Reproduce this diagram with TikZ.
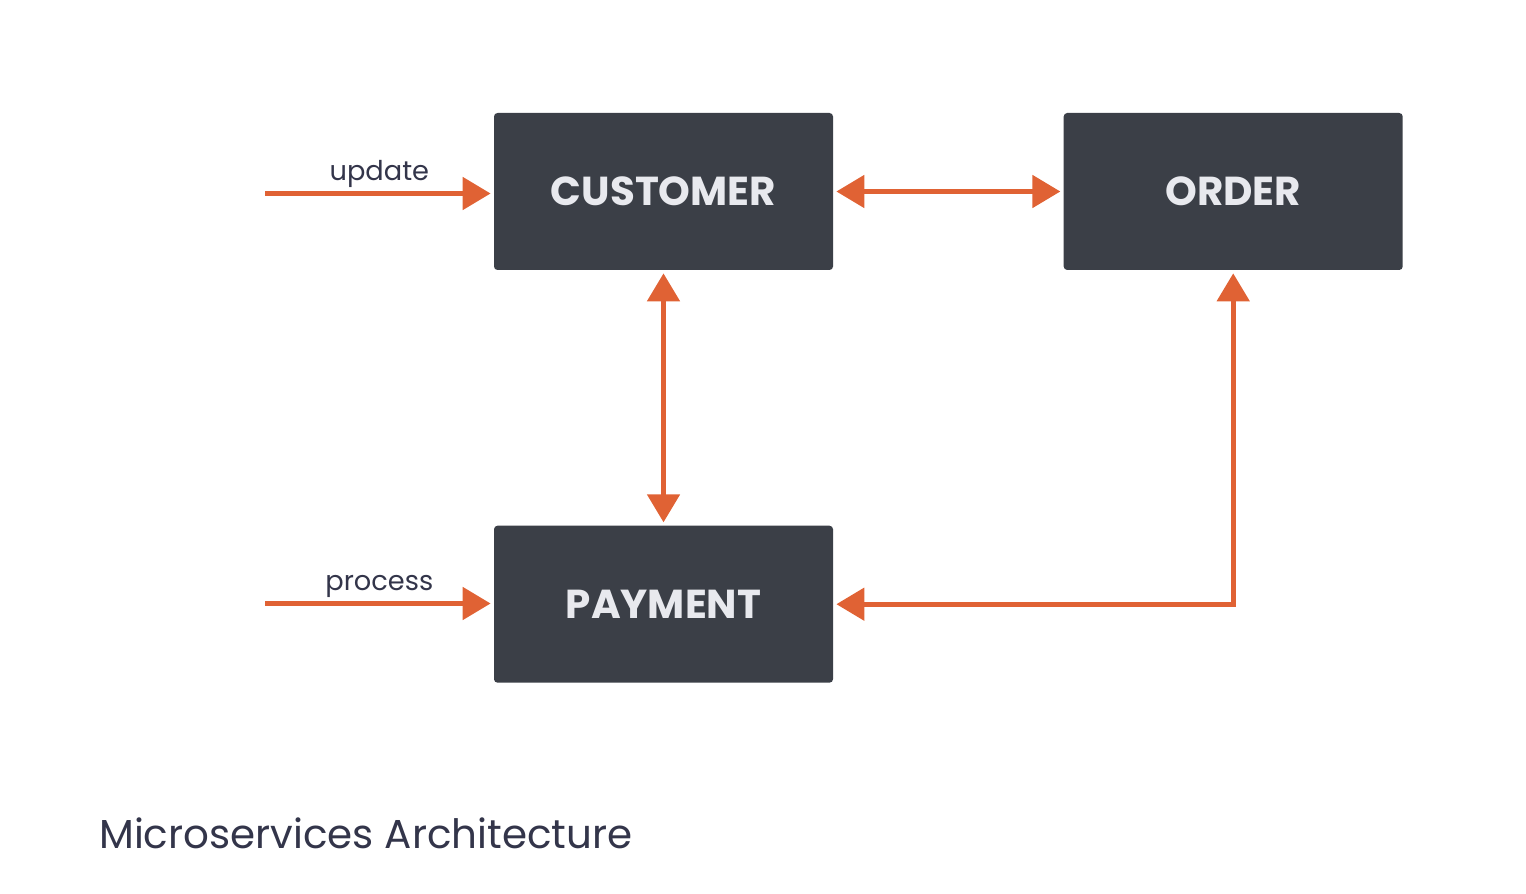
\documentclass[tikz,border=0pt]{standalone}
\usepackage{fontspec}
\setmainfont{Poppins}
\usepackage{tikz}
\usetikzlibrary{arrows.meta, positioning}
\usepackage{xcolor}

\definecolor{boxgray}{HTML}{3B3F47}
\definecolor{boxtext}{HTML}{E8E9EE}
\definecolor{flow}{HTML}{E06234}
\definecolor{captext}{HTML}{33354A}

\begin{document}
\begin{tikzpicture}[
    service/.style={rectangle, fill=boxgray, rounded corners=2pt, minimum width=6.78cm, minimum height=3.14cm, inner sep=0pt, align=center, text=boxtext, font=\fontsize{23}{27}\selectfont\bfseries},
    arrow/.style={-{Triangle[length=0.56cm, width=0.64cm]}, line width=0.1cm, draw=flow, shorten >=0.06cm},
    twoway/.style={{Triangle[length=0.56cm, width=0.64cm]}-{Triangle[length=0.56cm, width=0.64cm]}, line width=0.1cm, draw=flow, shorten >=0.06cm, shorten <=0.06cm},
    label/.style={font=\fontsize{15.5}{18}\selectfont, text=captext},
]
\useasboundingbox (0,0) rectangle (30.52,-17.88);

\node[service] (customer) at (13.27,-3.83) {CUSTOMER};
\node[service, right=4.6cm of customer] (order) {ORDER};
\node[service, below=5.1cm of customer] (payment) {PAYMENT};

% incoming requests
\coordinate (upd) at (5.3,-3.87);
\coordinate (proc) at (5.3,-12.07);
\draw[arrow] (upd) -- node[label, above=-1.5pt]{update} (upd -| customer.west);
\draw[arrow] (proc) -- node[label, above=-1.5pt]{process} (proc -| payment.west);

% service links
\draw[twoway] (customer.east) -- (order.west);
\draw[twoway] (customer.south) -- (payment.north);
\draw[twoway] (order.south) |- (payment.east);

\node[anchor=base west, font=\fontsize{23}{27}\selectfont, text=captext] (caption) at (1.86,-16.96) {Microservices Architecture};

\end{tikzpicture}
\end{document}
